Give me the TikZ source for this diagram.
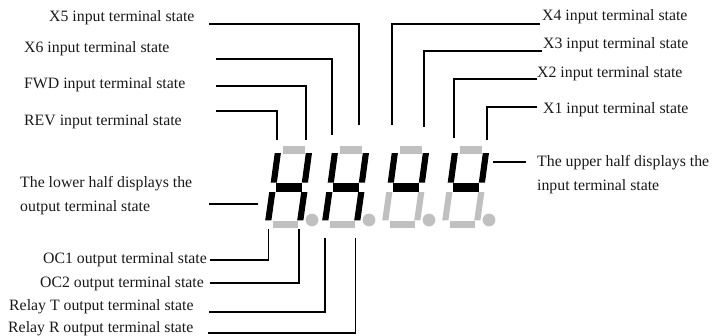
\documentclass[tikz,border=0pt]{standalone}
\usepackage{fontspec}
\setmainfont{Liberation Serif}
\definecolor{segoff}{RGB}{192,192,192}
\definecolor{segon}{RGB}{0,0,0}
\definecolor{txt}{RGB}{25,25,25}
\newcommand\sevseg[8]{%
  % #1 origin x, #2 top, #3 UL, #4 UR, #5 mid, #6 LL, #7 LR, #8 bottom
  \fill[#2] ($(#1,146)+(-0.5,0)$) rectangle ++(22,7.5);
  \fill[#3] ($(#1,153)+(-8.3,0)$) -- ++(6.2,0) -- ++(-4,29.5) -- ++(-6.2,0) -- cycle;
  \fill[#4] ($(#1,153)+(22.8,0)$) -- ++(6.2,0) -- ++(-4,29.5) -- ++(-6.2,0) -- cycle;
  \fill[#5] ($(#1,182.8)+(-6.8,0)$) rectangle ++(26,8.7);
  \fill[#6] ($(#1,192)+(-13.8,0)$) -- ++(6.2,0) -- ++(-4,28.3) -- ++(-6.2,0) -- cycle;
  \fill[#7] ($(#1,192)+(18.2,0)$) -- ++(6.2,0) -- ++(-4,28.3) -- ++(-6.2,0) -- cycle;
  \fill[#8] ($(#1,221)+(-10.5,0)$) rectangle ++(25,7);
  \fill[segoff] ($(#1,220)+(29,0)$) circle (6.4);
}
\usetikzlibrary{calc}
\begin{document}
\begin{tikzpicture}[x=1pt,y=-1pt,
  lbl/.style={inner sep=0pt, text=txt, font=\fontsize{15.8}{19}\selectfont},
  wire/.style={line width=1.9pt, black}]
\useasboundingbox (0,0) rectangle (712,335);

% display digits
\sevseg{283}{segoff}{segon}{segon}{segon}{segon}{segon}{segoff}
\sevseg{340}{segoff}{segon}{segon}{segon}{segon}{segon}{segoff}
\sevseg{400}{segoff}{segon}{segon}{segon}{segoff}{segoff}{segoff}
\sevseg{460}{segoff}{segon}{segon}{segon}{segoff}{segoff}{segoff}

% left input labels
\node[lbl, anchor=base west] (x5) at (49,21.5) {X5 input terminal state};
\node[lbl, anchor=base west] (x6) at (24,52.5) {X6 input terminal state};
\node[lbl, anchor=base west] (fwd) at (24,88) {FWD input terminal state};
\node[lbl, anchor=base west] (rev) at (24,125) {REV input terminal state};
% right input labels
\node[lbl, anchor=base west] (x4) at (542,20) {X4 input terminal state};
\node[lbl, anchor=base west] (x3) at (543,48) {X3 input terminal state};
\node[lbl, anchor=base west] (x2) at (537,77) {X2 input terminal state};
\node[lbl, anchor=base west] (x1) at (543,113) {X1 input terminal state};
% halves
\node[lbl, anchor=base west] (up1) at (537,166) {The upper half displays the};
\node[lbl, anchor=base west] (up2) at (537,190) {input terminal state};
\node[lbl, anchor=base west] (lo1) at (20,187.5) {The lower half displays the};
\node[lbl, anchor=base west] (lo2) at (20,211.5) {output terminal state};
% outputs
\node[lbl, anchor=base east] (oc1) at (207,263.5) {OC1 output terminal state};
\node[lbl, anchor=base east] (oc2) at (204,287.5) {OC2 output terminal state};
\node[lbl, anchor=base west] (rt) at (9,310) {Relay T output terminal state};
\node[lbl, anchor=base west] (rr) at (8,332) {Relay R output terminal state};

% connector end points
\coordinate (x5a) at (209,24);   \coordinate (x5b) at (359,125);
\coordinate (x6a) at (216,59);   \coordinate (x6b) at (332,135);
\coordinate (fwda) at (216,86);  \coordinate (fwdb) at (306,140);
\coordinate (reva) at (216,111); \coordinate (revb) at (277,140);
\coordinate (x4a) at (540,24);   \coordinate (x4b) at (392,125);
\coordinate (x3a) at (542,51);   \coordinate (x3b) at (424,127);
\coordinate (x2a) at (537,79);   \coordinate (x2b) at (454,138);
\coordinate (x1a) at (537,107);  \coordinate (x1b) at (487,140);
\coordinate (upa) at (493,162);  \coordinate (upb) at (526,162);
\coordinate (loa) at (209,204);  \coordinate (lob) at (258,204);
\coordinate (oc1a) at (210,260); \coordinate (oc1b) at (268.5,229);
\coordinate (oc2a) at (210,283); \coordinate (oc2b) at (299,229);
\coordinate (rta) at (209,312);  \coordinate (rtb) at (325,238);
\coordinate (rra) at (208,333);  \coordinate (rrb) at (355.5,238);

\draw[wire] (x5a) -| (x5b);
\draw[wire] (x6a) -| (x6b);
\draw[wire] (fwda) -| (fwdb);
\draw[wire] (reva) -| (revb);
\draw[wire] (x4a) -| (x4b);
\draw[wire] (x3a) -| (x3b);
\draw[wire] (x2a) -| (x2b);
\draw[wire] (x1a) -| (x1b);
\draw[wire] (upa) -- (upb);
\draw[wire] (loa) -- (lob);
\draw[wire] (oc1a) -| (oc1b);
\draw[wire] (oc2a) -| (oc2b);
\draw[wire] (rta) -| (rtb);
\draw[wire] (rra) -| (rrb);
\end{tikzpicture}
\end{document}
